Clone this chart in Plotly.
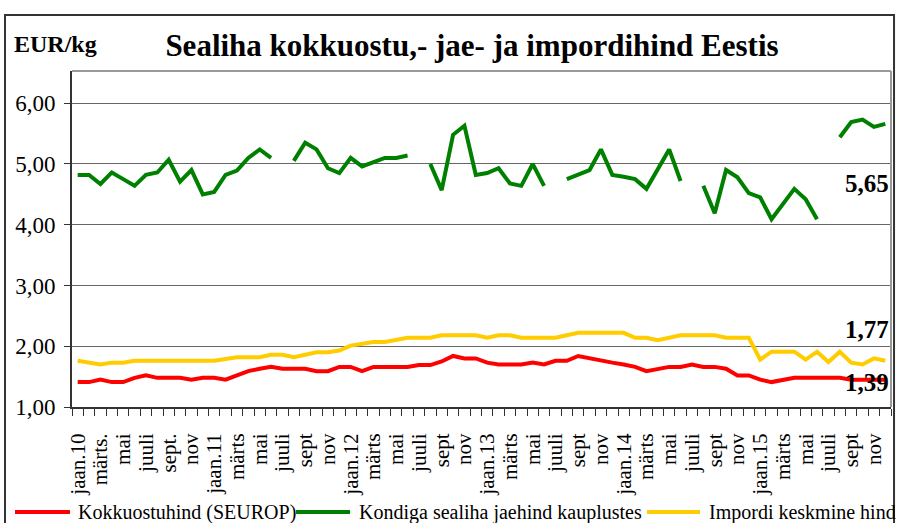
import plotly.graph_objects as go

# monthly data, jaan.2010 ... dets.2015
years = [2010, 2011, 2012, 2013, 2014, 2015]
months = [f"{y}-{m:02d}" for y in years for m in range(1, 13)]

tick_labels = [
    "jaan.10", "märts.", "mai", "juuli", "sept.", "nov",
    "jaan.11", "märts", "mai", "juuli", "sept", "nov",
    "jaan.12", "märts", "mai", "juuli", "sept", "nov",
    "jaan.13", "märts", "mai", "juuli", "sept", "nov",
    "jaan.14", "märts", "mai", "juuli", "sept", "nov",
    "jaan.15", "märts", "mai", "juuli", "sept", "nov",
]

# Kokkuostuhind (SEUROP)
purchase = [
    1.41, 1.41, 1.45, 1.41, 1.41, 1.48, 1.52, 1.48, 1.48, 1.48, 1.45, 1.48,
    1.48, 1.45, 1.52, 1.59, 1.63, 1.66, 1.63, 1.63, 1.63, 1.59, 1.59, 1.66,
    1.66, 1.59, 1.66, 1.66, 1.66, 1.66, 1.69, 1.69, 1.75, 1.84, 1.80, 1.80,
    1.73, 1.70, 1.70, 1.70, 1.73, 1.70, 1.76, 1.76, 1.84, 1.80, 1.76, 1.73,
    1.70, 1.66, 1.59, 1.63, 1.66, 1.66, 1.70, 1.66, 1.66, 1.63, 1.52, 1.52,
    1.45, 1.41, 1.45, 1.48, 1.48, 1.48, 1.48, 1.48, 1.45, 1.45, 1.45, 1.45,
]

# Kondiga sealiha jaehind kauplustes (no data in July)
retail = [
    4.82, 4.82, 4.67, 4.86, 4.75, 4.64, 4.82, 4.86, 5.07, 4.71, 4.90, 4.50,
    4.54, 4.82, 4.89, 5.10, 5.24, 5.10, None, 5.05, 5.35, 5.24, 4.93, 4.85,
    5.10, 4.96, 5.03, 5.10, 5.10, 5.14, None, 5.00, 4.57, 5.48, 5.63, 4.82,
    4.85, 4.93, 4.68, 4.64, 5.00, 4.64, None, 4.75, 4.82, 4.90, 5.24, 4.82,
    4.79, 4.75, 4.59, 4.92, 5.24, 4.72, None, 4.64, 4.19, 4.90, 4.78, 4.52,
    4.45, 4.09, 4.34, 4.59, 4.42, 4.09, None, 5.44, 5.69, 5.73, 5.61, 5.66,
]

# Impordi keskmine hind
imports = [
    1.76, 1.73, 1.70, 1.73, 1.73, 1.76, 1.76, 1.76, 1.76, 1.76, 1.76, 1.76,
    1.76, 1.79, 1.82, 1.82, 1.82, 1.86, 1.86, 1.82, 1.86, 1.90, 1.90, 1.93,
    2.01, 2.04, 2.07, 2.07, 2.11, 2.14, 2.14, 2.14, 2.18, 2.18, 2.18, 2.18,
    2.14, 2.18, 2.18, 2.14, 2.14, 2.14, 2.14, 2.18, 2.22, 2.22, 2.22, 2.22,
    2.22, 2.14, 2.14, 2.10, 2.14, 2.18, 2.18, 2.18, 2.18, 2.14, 2.14, 2.14,
    1.78, 1.91, 1.91, 1.91, 1.78, 1.91, 1.74, 1.91, 1.73, 1.70, 1.80, 1.76,
]

series_names = ["Kokkuostuhind (SEUROP)", "Kondiga sealiha jaehind kauplustes", "Impordi keskmine hind"]
series_colors = ["#ff0000", "#008000", "#ffcc00"]
end_labels = {"retail": "5,65", "imports": "1,77", "purchase": "1,39"}

FONT = "Liberation Serif, Times New Roman, serif"
x = list(range(len(months)))

fig = go.Figure()
for name, values, color in zip(series_names, [purchase, retail, imports], series_colors):
    fig.add_trace(go.Scatter(x=x, y=values, name=name, mode="lines", customdata=months,
                             line=dict(color=color, width=4), connectgaps=False))

# data labels at the last month
label_font = dict(family=FONT, size=25, color="black")
fig.add_annotation(x=1, xref="paper", xanchor="right", y=retail[-1], yref="y", yshift=-60,
                   text="<b>%s</b>" % end_labels["retail"], showarrow=False, font=label_font)
fig.add_annotation(x=1, xref="paper", xanchor="right", y=imports[-1], yref="y", yshift=31,
                   text="<b>%s</b>" % end_labels["imports"], showarrow=False, font=label_font)
fig.add_annotation(x=1, xref="paper", xanchor="right", y=purchase[-1], yref="y", yshift=-3,
                   text="<b>%s</b>" % end_labels["purchase"], showarrow=False, font=label_font)

# unit label
fig.add_annotation(x=-0.0733, xref="paper", xanchor="left", y=1.0804, yref="paper",
                   yanchor="middle", text="<b>EUR/kg</b>", showarrow=False,
                   font=dict(family=FONT, size=24, color="black"))

# legend row along the bottom edge (Excel style, samples 55px long)
legend_x = [(15, 70, 76), (296, 350, 357), (647, 700, 707)]
legend_y = (407 - 512) / 336
for name, color, (s0, s1, tx) in zip(series_names, series_colors, legend_x):
    fig.add_shape(type="line", xref="paper", yref="paper",
                  x0=(s0 - 72) / 819, x1=(s1 - 72) / 819, y0=legend_y, y1=legend_y,
                  line=dict(color=color, width=4))
    fig.add_annotation(x=(tx - 72) / 819, xref="paper", xanchor="left", y=legend_y, yref="paper",
                       yanchor="middle", text=name, showarrow=False,
                       font=dict(family=FONT, size=20, color="black"))

# outer frame and plot area border
fig.add_shape(type="rect", xref="paper", yref="paper", x0=-0.0818, x1=1.0037, y0=-0.4, y1=1.1667,
              line=dict(color="#333333", width=2), layer="below")
fig.add_shape(type="line", xref="paper", yref="paper", x0=0, x1=1, y0=1, y1=1,
              line=dict(color="#999999", width=2))
fig.add_shape(type="line", xref="paper", yref="paper", x0=1, x1=1, y0=0, y1=1,
              line=dict(color="#999999", width=2))

fig.update_layout(
    width=897, height=523,
    margin=dict(l=72, r=6, t=71, b=116),
    paper_bgcolor="white", plot_bgcolor="white",
    font=dict(family=FONT, color="black"),
    title=dict(text="<b>Sealiha kokkuostu,- jae- ja impordihind Eestis</b>",
               x=472 / 897, xref="container", xanchor="center",
               y=1 - 45 / 523, yref="container", yanchor="middle",
               font=dict(family=FONT, size=31, color="black")),
    showlegend=False,
    xaxis=dict(
        range=[-0.5, len(months) - 0.5], automargin=False,
        tickvals=x[::2], ticktext=tick_labels, tickangle=-90,
        tickfont=dict(family=FONT, size=21, color="black"),
        ticks="", showgrid=False, zeroline=False,
        showline=True, linecolor="#333333", linewidth=2,
        minor=dict(ticks="outside", tick0=-0.5, dtick=1, ticklen=7,
                   tickcolor="#333333", tickwidth=1, showgrid=False),
        ticklabelstandoff=16,
    ),
    yaxis=dict(
        range=[1, 6.53], automargin=False, tickvals=[1, 2, 3, 4, 5, 6],
        ticktext=["1,00", "2,00", "3,00", "4,00", "5,00", "6,00"],
        tickfont=dict(family=FONT, size=23, color="black"),
        ticks="outside", ticklen=6, tickcolor="#333333",
        showgrid=True, gridcolor="#666666", gridwidth=1, zeroline=False,
        showline=True, linecolor="#333333", linewidth=2,
        ticklabelstandoff=4,
    ),
)

# the page body has a default 8px margin; remove it so the figure sits at the window corner
fig.write_html("out.html", config={"displayModeBar": False},
               post_script="document.body.style.margin='0';")
